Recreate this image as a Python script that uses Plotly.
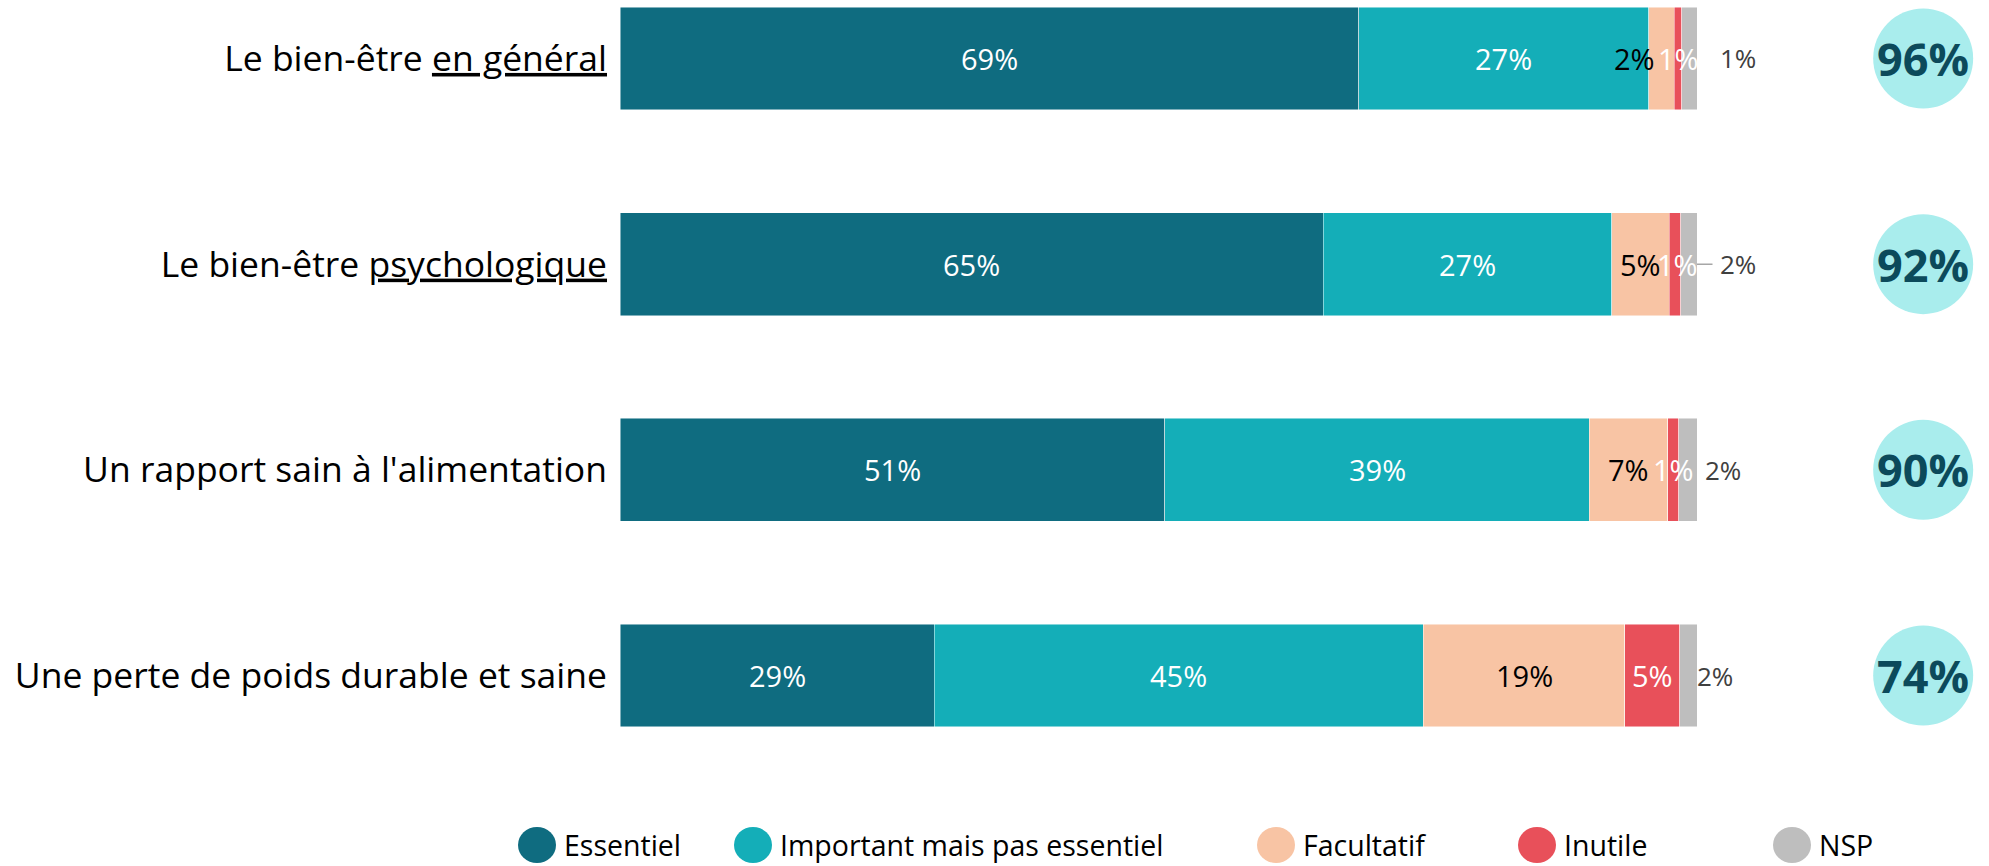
import plotly.graph_objects as go

categories = [
    "Le bien-être <u>en général</u>",
    "Le bien-être <u>psychologique</u>",
    "Un rapport sain à l'alimentation",
    "Une perte de poids durable et saine",
]
series_names = ["Essentiel", "Important mais pas essentiel", "Facultatif", "Inutile", "NSP"]

# segment widths (%)
essentiel = [68.6, 65.3, 50.6, 29.2]
important = [26.9, 26.8, 39.4, 45.4]
facultatif = [2.4, 5.3, 7.3, 18.7]
inutile = [0.7, 1.1, 1.0, 5.1]
nsp = [1.4, 1.5, 1.7, 1.6]

# printed labels
essentiel_lbl = [69, 65, 51, 29]
important_lbl = [27, 27, 39, 45]
facultatif_lbl = [2, 5, 7, 19]
inutile_lbl = [1, 1, 1, 5]
nsp_lbl = [1, 2, 2, 2]
total_lbl = [96, 92, 90, 74]

colors = ["#0f6c80", "#14aeb8", "#f8c4a4", "#e8505a", "#bebebe"]
label_colors = ["white", "white", "black", "white", "#404040"]

FONT = "Open Sans"
values = [essentiel, important, facultatif, inutile, nsp]
labels = [essentiel_lbl, important_lbl, facultatif_lbl, inutile_lbl, nsp_lbl]
ypos = list(range(len(categories)))

fig = go.Figure()
for name, vals, col in zip(series_names, values, colors):
    fig.add_trace(go.Bar(
        y=ypos, x=vals, name=name, orientation="h", width=0.5,
        marker=dict(color=col, line=dict(color="rgba(255,255,255,0.6)", width=0.8)),
        showlegend=False, hoverinfo="x+name",
    ))

annotations = []
# extra horizontal nudges for crowded labels (series index, bar index) -> px
nudges = {(2, 0): -27, (3, 1): 3}
nsp_shift = [21, 0, 6, -2]

for i in ypos:
    start = 0.0
    for s in range(4):
        v = values[s][i]
        annotations.append(dict(
            x=start + v / 2, y=i, xref="x", yref="y", text=f"{labels[s][i]}%",
            showarrow=False, xshift=nudges.get((s, i), 0),
            font=dict(family=FONT, size=29, color=label_colors[s]),
        ))
        start += v
    end = start + nsp[i]
    if i == 1:
        annotations.append(dict(
            x=end, y=i, xref="x", yref="y", text=f"{nsp_lbl[i]}%",
            showarrow=True, arrowhead=0, arrowwidth=1.5, arrowcolor="#a6a6a6",
            ax=41, ay=0, startstandoff=6,
            font=dict(family=FONT, size=26, color=label_colors[4]),
        ))
    else:
        annotations.append(dict(
            x=end, y=i, xref="x", yref="y", text=f"{nsp_lbl[i]}%",
            showarrow=False, xanchor="left", xshift=nsp_shift[i],
            font=dict(family=FONT, size=26, color=label_colors[4]),
        ))

# total circles
shapes = []
CIRCLE_X = 121.0
for i in ypos:
    shapes.append(dict(
        type="circle", xref="x", yref="y", xsizemode="pixel", ysizemode="pixel",
        xanchor=CIRCLE_X, yanchor=i, x0=-50, x1=50, y0=-50, y1=50,
        fillcolor="#a9eded", line=dict(width=0), layer="below",
    ))
    annotations.append(dict(
        x=CIRCLE_X, y=i, xref="x", yref="y", text=f"<b>{total_lbl[i]}%</b>",
        showarrow=False, font=dict(family=FONT, size=45, color="#0c4a5b"),
    ))

# legend (large round markers)
PLOT_L, PLOT_W, PLOT_H = 620, 1369, 740
legend_px = [537, 753, 1276, 1537, 1792]
legend_y = (PLOT_H - 845) / PLOT_H
for name, col, px in zip(series_names, colors, legend_px):
    xp = (px - PLOT_L) / PLOT_W
    shapes.append(dict(
        type="circle", xref="paper", yref="paper", xsizemode="pixel", ysizemode="pixel",
        xanchor=xp, yanchor=legend_y, x0=-19, x1=19, y0=-18, y1=18,
        fillcolor=col, line=dict(width=0),
    ))
    annotations.append(dict(
        x=xp, y=legend_y, xref="paper", yref="paper", text=name, showarrow=False,
        xanchor="left", yanchor="middle", xshift=26, borderpad=0,
        font=dict(family=FONT, size=28.5, color="black"),
    ))

fig.update_layout(
    barmode="stack",
    width=1989, height=866,
    margin=dict(l=PLOT_L, r=0, t=0, b=866 - PLOT_H),
    plot_bgcolor="white", paper_bgcolor="white",
    font=dict(family=FONT),
    xaxis=dict(range=[0, PLOT_W / 10.77], visible=False, fixedrange=True),
    yaxis=dict(
        range=[3.3135, -0.2844], tickmode="array", tickvals=ypos, ticktext=categories,
        showgrid=False, zeroline=False, showline=False, ticks="",
        ticklabelstandoff=12, tickfont=dict(family=FONT, size=35.5, color="black"),
        fixedrange=True,
    ),
    annotations=annotations, shapes=shapes,
    showlegend=False,
)

fig.write_html("out.html")
